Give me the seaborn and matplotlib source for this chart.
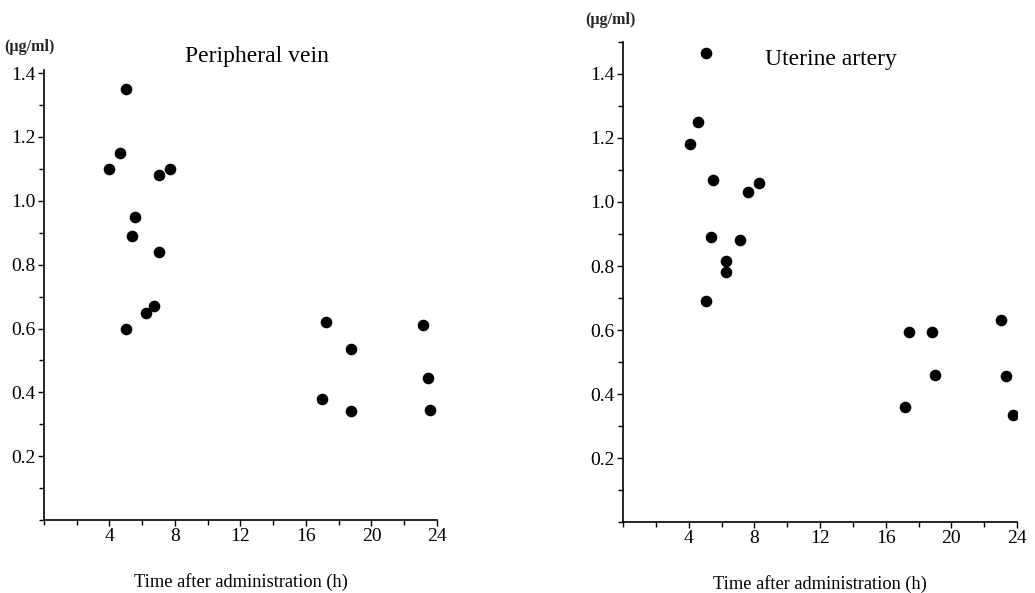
import matplotlib
matplotlib.use("Agg")
import matplotlib.pyplot as plt
import pandas as pd
import seaborn as sns
from matplotlib.ticker import MultipleLocator

vein_time = [5.0, 4.65, 4.0, 7.05, 7.7, 5.55, 5.35, 7.05, 6.7, 6.25, 5.0, 17.25, 23.15, 18.75, 23.45, 17.0, 18.75, 23.6]
vein_conc = [1.35, 1.15, 1.10, 1.08, 1.10, 0.95, 0.89, 0.84, 0.67, 0.65, 0.60, 0.62, 0.61, 0.535, 0.445, 0.38, 0.34, 0.345]

artery_time = [5.05, 4.55, 4.05, 5.45, 7.6, 8.3, 5.35, 7.15, 6.25, 6.25, 5.05, 17.4, 18.8, 23.05, 19.0, 23.3, 17.15, 23.75]
artery_conc = [1.465, 1.25, 1.18, 1.07, 1.03, 1.06, 0.89, 0.88, 0.815, 0.78, 0.69, 0.595, 0.595, 0.63, 0.46, 0.455, 0.36, 0.335]

panels = [
    ("Peripheral vein", vein_time, vein_conc, 1.41),
    ("Uterine artery", artery_time, artery_conc, 1.5),
]
x_ticks = [4, 8, 12, 16, 20, 24]
y_ticks = [0.2, 0.4, 0.6, 0.8, 1.0, 1.2, 1.4]

sns.set_theme(style="ticks")
plt.rcParams["font.family"] = ["Liberation Serif", "DejaVu Serif"]

fig = plt.figure(figsize=(10.35, 5.93), dpi=100)
positions = [[0.0425, 0.1231, 0.3797, 0.7589], [0.602, 0.1197, 0.3806, 0.8095]]
title_pos = [(0.1787, 0.904), (0.739, 0.9005)]
unit_pos = [(0.004, 0.921), (0.565, 0.966)]

for (title, xs, ys, ytop), pos, tpos, upos in zip(panels, positions, title_pos, unit_pos):
    ax = fig.add_axes(pos)
    df = pd.DataFrame({"time": xs, "conc": ys})
    sns.scatterplot(data=df, x="time", y="conc", ax=ax, color="black", s=70, edgecolor="black", linewidth=0)
    ax.set_xlim(0, 24)
    ax.set_ylim(0, ytop)
    ax.set_xticks(x_ticks)
    ax.set_yticks(y_ticks)
    ax.set_yticklabels([f"{v:.1f}" for v in y_ticks])
    ax.xaxis.set_minor_locator(MultipleLocator(2))
    ax.yaxis.set_minor_locator(MultipleLocator(0.1))
    ax.tick_params(axis="both", which="major", direction="out", length=4, width=1, labelsize=14, color="black", labelcolor="black", pad=2)
    ax.tick_params(axis="both", which="minor", direction="out", length=3.5, width=1, color="black")
    for side in ["top", "right"]:
        ax.spines[side].set_visible(False)
    for side in ["left", "bottom"]:
        ax.spines[side].set_color("black")
        ax.spines[side].set_linewidth(1.2)
    ax.set_xlabel("Time after administration (h)", fontsize=13.2, labelpad=20, color="black")
    ax.set_ylabel("")
    fig.text(tpos[0], tpos[1], title, fontsize=17, ha="left", va="center", color="black")
    fig.text(upos[0], upos[1], "(\u00b5g/ml)", fontsize=11.5, fontweight="bold", ha="left", va="center")

fig.savefig("out.png", dpi=100)
